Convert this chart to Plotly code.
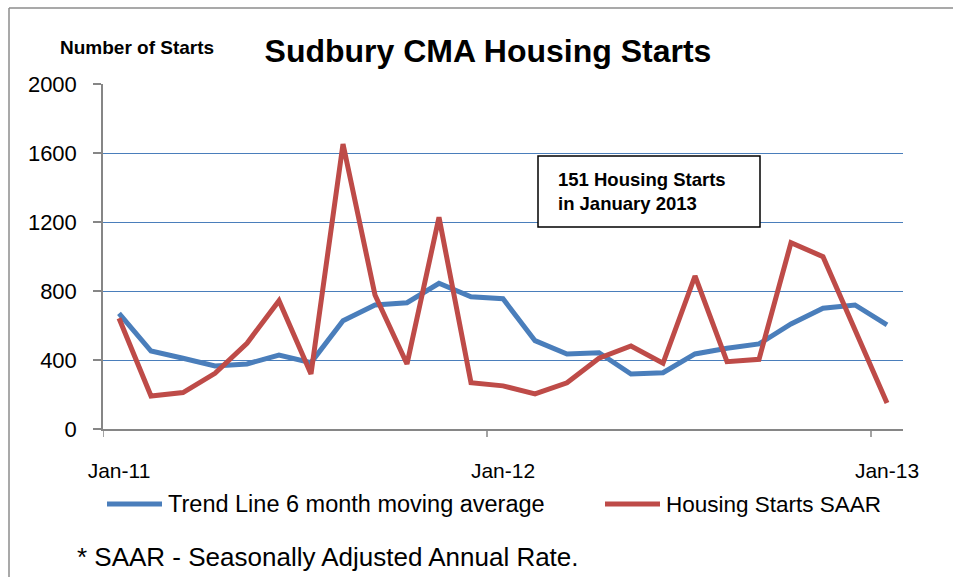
import plotly.graph_objects as go

months = ["Jan-11", "Feb-11", "Mar-11", "Apr-11", "May-11", "Jun-11", "Jul-11", "Aug-11",
          "Sep-11", "Oct-11", "Nov-11", "Dec-11", "Jan-12", "Feb-12", "Mar-12", "Apr-12",
          "May-12", "Jun-12", "Jul-12", "Aug-12", "Sep-12", "Oct-12", "Nov-12", "Dec-12",
          "Jan-13"]
trend = [670, 452, 410, 365, 377, 429, 385, 628, 719, 732, 845, 767, 755,
         512, 435, 442, 319, 326, 435, 468, 493, 609, 700, 719, 603]
saar = [642, 191, 211, 323, 497, 744, 319, 1652, 777, 377, 1227, 268, 250,
        203, 268, 410, 481, 381, 887, 390, 404, 1080, 999, 574, 151]
x_labels = ["Jan-11", "Jan-12", "Jan-13"]
y_ticks = [0, 400, 800, 1200, 1600, 2000]
series_names = ["Trend Line 6 month moving average", "Housing Starts SAAR"]

BLUE = "#4a7ebb"
RED = "#be4b48"
GRAY = "#868686"
FONT = "Liberation Sans, Arial, sans-serif"

W, H = 953, 577
L, R, T, B = 103, 903, 84, 429


def px(xp):
    return (xp - L) / (R - L)


def py(yp):
    return (B - yp) / (B - T)


fig = go.Figure()
fig.add_trace(go.Scatter(x=months, y=trend, mode="lines", name=series_names[0],
                         line=dict(color=BLUE, width=5), showlegend=False))
fig.add_trace(go.Scatter(x=months, y=saar, mode="lines", name=series_names[1],
                         line=dict(color=RED, width=5), showlegend=False))

shapes = []
# x-axis tick marks at category boundaries
for b in [-0.5, 11.5, 23.5]:
    shapes.append(dict(type="line", xref="x", yref="paper", x0=b, x1=b,
                       y0=0, y1=py(437), line=dict(color=GRAY, width=1.5)))
# outer chart border
shapes.append(dict(type="line", xref="paper", yref="paper", x0=px(9), x1=px(9),
                   y0=py(8), y1=py(600), line=dict(color="#8c8c8c", width=1.5)))
shapes.append(dict(type="line", xref="paper", yref="paper", x0=px(9), x1=px(1000),
                   y0=py(8), y1=py(8), line=dict(color="#8c8c8c", width=1.5)))
# text box
shapes.append(dict(type="rect", xref="paper", yref="paper", x0=px(538), x1=px(760),
                   y0=py(227), y1=py(156), line=dict(color="black", width=1.5),
                   fillcolor="white", layer="above"))
# legend samples
shapes.append(dict(type="line", xref="paper", yref="paper", x0=px(107), x1=px(162),
                   y0=py(504), y1=py(504), line=dict(color=BLUE, width=5)))
shapes.append(dict(type="line", xref="paper", yref="paper", x0=px(605), x1=px(660),
                   y0=py(504), y1=py(504), line=dict(color=RED, width=5)))

annotations = [
    dict(text="<b>Number of Starts</b>", xref="paper", yref="paper", x=px(137), y=py(48),
         xanchor="center", yanchor="middle", showarrow=False,
         font=dict(family=FONT, size=19, color="black")),
    dict(text="<b>151 Housing Starts<br>in January 2013</b>", xref="paper", yref="paper",
         x=px(556), y=py(191), xanchor="left", yanchor="middle", align="left",
         showarrow=False, font=dict(family=FONT, size=18.5, color="black")),
    dict(text=series_names[0], xref="paper", yref="paper", x=px(166), y=py(504),
         xanchor="left", yanchor="middle", showarrow=False,
         font=dict(family=FONT, size=23.5, color="black")),
    dict(text=series_names[1], xref="paper", yref="paper", x=px(664), y=py(504),
         xanchor="left", yanchor="middle", showarrow=False,
         font=dict(family=FONT, size=22.5, color="black")),
    dict(text="* SAAR - Seasonally Adjusted Annual Rate.", xref="paper", yref="paper",
         x=px(75), y=py(557), xanchor="left", yanchor="middle", showarrow=False,
         font=dict(family=FONT, size=26, color="black")),
]

fig.update_layout(
    width=W, height=H,
    margin=dict(l=L, r=W - R, t=T, b=H - B),
    paper_bgcolor="white", plot_bgcolor="white",
    title=dict(text="<b>Sudbury CMA Housing Starts</b>", x=488 / W, y=1 - 51 / H,
               xanchor="center", yanchor="middle",
               font=dict(family=FONT, size=32, color="black")),
    shapes=shapes, annotations=annotations,
    showlegend=False,
    xaxis=dict(type="category", categoryorder="array", categoryarray=months,
               range=[-0.5, len(months) - 0.5],
               tickmode="array", tickvals=x_labels, ticktext=x_labels,
               ticks="", showgrid=False, showline=True, linecolor=GRAY, linewidth=1.5,
               ticklabelstandoff=22,
               tickfont=dict(family=FONT, size=21, color="black"), zeroline=False),
    yaxis=dict(range=[0, 2000], tickmode="array", tickvals=y_ticks,
               ticks="outside", ticklen=8, tickcolor=GRAY, tickwidth=1.5,
               showline=True, linecolor=GRAY, linewidth=1.5,
               showgrid=True, gridcolor=BLUE, gridwidth=1.3, zeroline=False,
               ticklabelstandoff=12,
               tickfont=dict(family=FONT, size=22, color="black")),
)

fig.write_html("out.html", config={"displayModeBar": False},
               post_script="document.body.style.margin='0';document.body.style.overflow='hidden';")
